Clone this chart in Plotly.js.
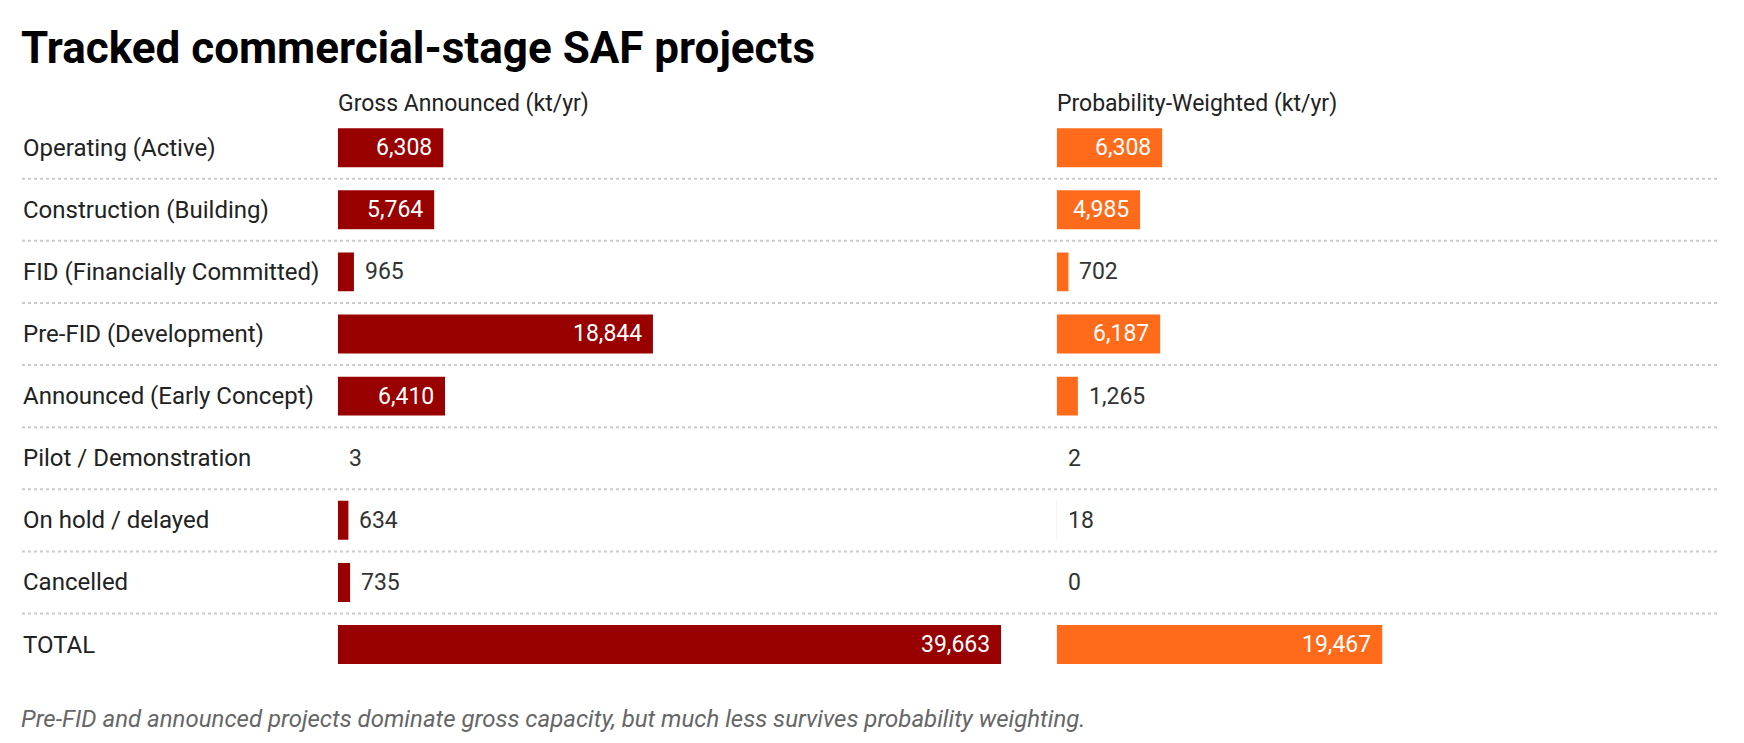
<!DOCTYPE html>
<html>
<head>
<meta charset="utf-8">
<script src="https://cdn.plot.ly/plotly-3.0.1.min.js"></script>
<style>
  html, body { margin: 0; padding: 0; background: #ffffff; }
  #chart { width: 1744px; height: 743px; }
</style>
</head>
<body>
<div id="chart"></div>
<script>
// ---- data ----
const stages = [
  'Operating (Active)',
  'Construction (Building)',
  'FID (Financially Committed)',
  'Pre-FID (Development)',
  'Announced (Early Concept)',
  'Pilot / Demonstration',
  'On hold / delayed',
  'Cancelled',
  'TOTAL'
];
const grossAnnounced = [6308, 5764, 965, 18844, 6410, 3, 634, 735, 39663];
const probWeighted   = [6308, 4985, 702, 6187, 1265, 2, 18, 0, 19467];
const columnHeaders  = ['Gross Announced (kt/yr)', 'Probability-Weighted (kt/yr)'];
const titleText   = 'Tracked commercial-stage SAF projects';
const captionText = 'Pre-FID and announced projects dominate gross capacity, but much less survives probability weighting.';

// ---- styling / layout constants ----
const W = 1744, H = 743;
const FONT = 'Roboto, "Open Sans", Arial, sans-serif';
const colors = ['#990000', '#ff6b1a'];
const insideMin = 3000;
const xMax = Math.max(...grossAnnounced, ...probWeighted);
const dom1 = [337.8 / W, 1001.1 / W];
const dom2 = [1056.7 / W, 1720 / W];
const yTopPx = 116.6, yBotPx = 675.6;
const yDom = [1 - yBotPx / H, 1 - yTopPx / H];
const fmt = v => v.toLocaleString('en-US');

const traces = [
  { type: 'bar', orientation: 'h', y: stages, x: grossAnnounced, xaxis: 'x', yaxis: 'y',
    marker: { color: colors[0] }, hoverinfo: 'skip' },
  { type: 'bar', orientation: 'h', y: stages, x: probWeighted, xaxis: 'x2', yaxis: 'y',
    marker: { color: colors[1] }, hoverinfo: 'skip' }
];

const annotations = [];
// row labels
stages.forEach(s => {
  annotations.push({ xref: 'paper', x: 21 / W, xanchor: 'left', yref: 'y', y: s, yanchor: 'middle',
    text: s, showarrow: false, font: { family: FONT, size: 24, color: '#222222' } });
});
// value labels
[[grossAnnounced, 'x'], [probWeighted, 'x2']].forEach(([vals, ax]) => {
  vals.forEach((v, i) => {
    const inside = v >= insideMin;
    annotations.push({ xref: ax, x: v, yref: 'y', y: stages[i], yanchor: 'middle',
      xanchor: inside ? 'right' : 'left', xshift: inside ? -9 : 9,
      text: fmt(v), showarrow: false,
      font: { family: FONT, size: 23, color: inside ? '#ffffff' : '#333333' } });
  });
});
// column headers
columnHeaders.forEach((h, k) => {
  annotations.push({ xref: (k === 0 ? 'x' : 'x2') + ' domain', x: 0, xanchor: 'left', xshift: -2,
    yref: 'paper', y: 1 - 103.5 / H, yanchor: 'middle', text: h, showarrow: false,
    font: { family: FONT, size: 23, color: '#222222' } });
});
// caption
annotations.push({ xref: 'paper', x: 19 / W, xanchor: 'left', yref: 'paper', y: 1 - 719 / H,
  yanchor: 'middle', text: '<i>' + captionText + '</i>', showarrow: false,
  font: { family: FONT, size: 24, color: '#666666' } });

// dotted separators between rows
const shapes = [];
for (let i = 0; i < stages.length - 1; i++) {
  shapes.push({ type: 'line', xref: 'paper', x0: 22 / W, x1: 1720 / W, yref: 'y', y0: i + 0.5, y1: i + 0.5,
    line: { color: '#cccccc', width: 2, dash: 'dot' }, layer: 'below' });
}

const axCommon = { range: [0, xMax], showgrid: false, zeroline: false, showticklabels: false,
  showline: false, ticks: '', fixedrange: true };

const layout = {
  width: W, height: H,
  margin: { l: 0, r: 0, t: 0, b: 0, pad: 0 },
  paper_bgcolor: '#ffffff', plot_bgcolor: '#ffffff',
  showlegend: false,
  bargap: 0.373,
  title: { text: '<b>' + titleText + '</b>', x: 21 / W, xanchor: 'left', xref: 'paper',
    yref: 'paper', y: 1 - 47.5 / H, yanchor: 'middle',
    font: { family: FONT, size: 44, color: '#000000' } },
  xaxis: Object.assign({ domain: dom1, anchor: 'y' }, axCommon),
  xaxis2: Object.assign({ domain: dom2, anchor: 'y' }, axCommon),
  yaxis: { domain: yDom, type: 'category', autorange: 'reversed', showgrid: false, zeroline: false,
    showticklabels: false, ticks: '', showline: false, fixedrange: true },
  annotations: annotations,
  shapes: shapes
};

Plotly.newPlot('chart', traces, layout, { displayModeBar: false, staticPlot: true });
</script>
</body>
</html>
